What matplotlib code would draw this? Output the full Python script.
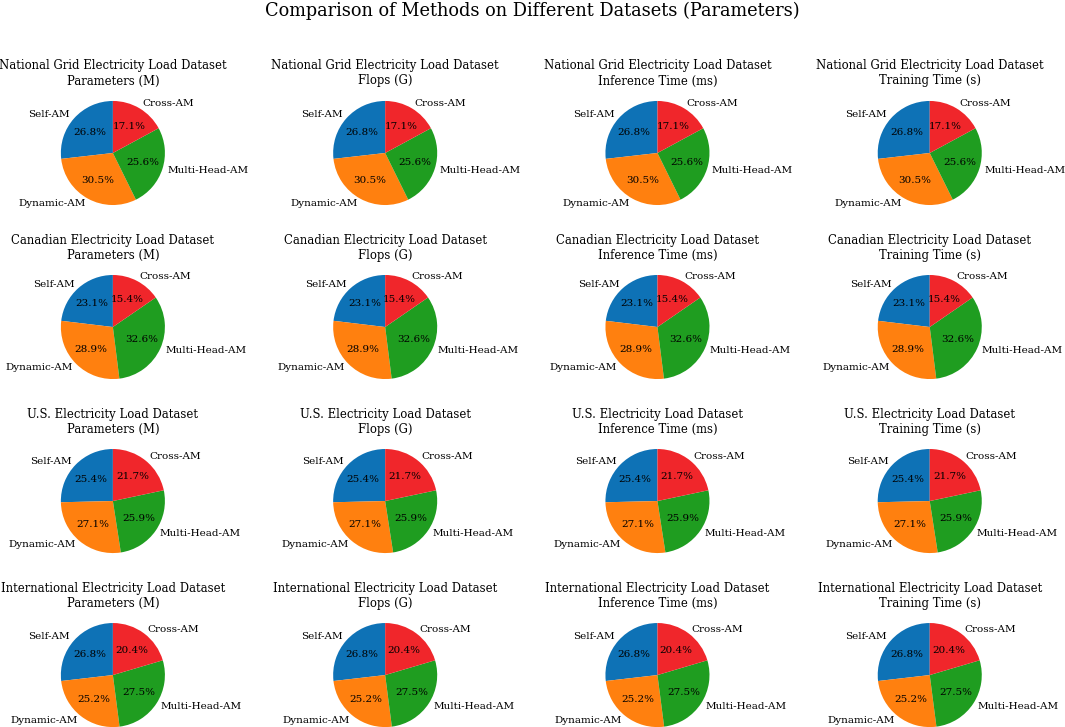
import matplotlib
matplotlib.use("Agg")
import matplotlib.pyplot as plt

plt.rcParams['font.family'] = 'DejaVu Serif'

# method order as drawn (counter-clockwise from 12 o'clock)
methods = ['Self-AM', 'Dynamic-AM', 'Multi-Head-AM', 'Cross-AM']
colors = ['#0e72b6', '#ff800f', '#1f9d20', '#f0262b']

datasets = ['National Grid Electricity Load Dataset',
            'Canadian Electricity Load Dataset',
            'U.S. Electricity Load Dataset',
            'International Electricity Load Dataset']
metrics = ['Parameters (M)', 'Flops (G)', 'Inference Time (ms)', 'Training Time (s)']

# share (%) of each method per dataset, same for every metric
national = [26.8, 30.5, 25.6, 17.1]
canadian = [23.1, 28.9, 32.6, 15.4]
us = [25.4, 27.1, 25.9, 21.7]
international = [26.8, 25.2, 27.5, 20.4]
shares = [national, canadian, us, international]

fig, axes = plt.subplots(4, 4, figsize=(10.65, 7.27), dpi=100)
fig.subplots_adjust(left=0.012, right=0.967, top=0.879, bottom=-0.018,
                    hspace=0.338, wspace=0.36)

for i, ds in enumerate(datasets):
    for j, m in enumerate(metrics):
        ax = axes[i, j]
        wedges, texts, autotexts = ax.pie(shares[i], labels=methods, colors=colors,
                                          autopct='%1.1f%%', startangle=90,
                                          textprops={'fontsize': 7.5})
        ax.set_title(ds + '\n' + m, fontsize=8.4, pad=2.5)

fig.suptitle('Comparison of Methods on Different Datasets (Parameters)',
             fontsize=12.8, y=0.997)

plt.savefig('out.png', dpi=100)
